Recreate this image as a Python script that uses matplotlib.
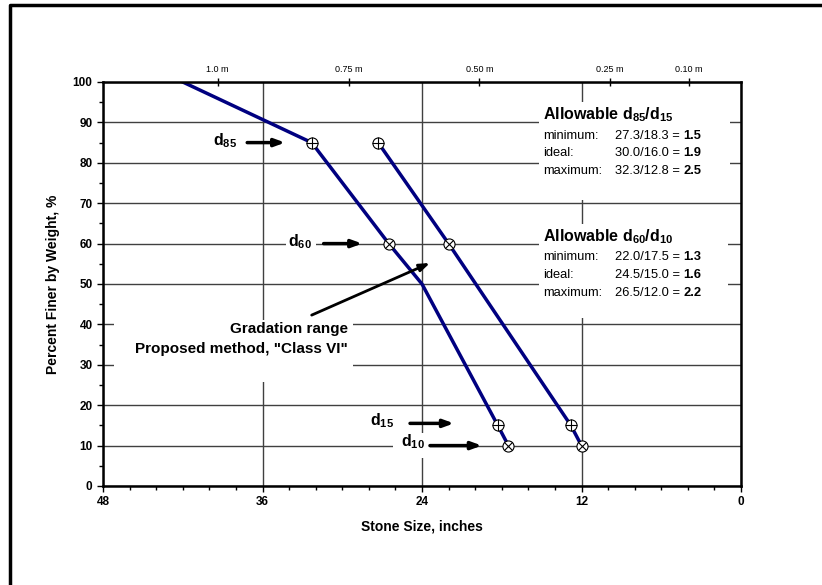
import numpy as np
import matplotlib.pyplot as plt
from matplotlib.lines import Line2D
from matplotlib.patches import Rectangle
from matplotlib.ticker import MultipleLocator, FixedLocator

plt.rcParams['font.family'] = ['Liberation Sans', 'DejaVu Sans']
plt.rcParams['mathtext.fontset'] = 'custom'
plt.rcParams['mathtext.rm'] = 'Liberation Sans'
plt.rcParams['mathtext.bf'] = 'Liberation Sans:bold'

# gradation band, stone size (inches) vs percent finer
coarse_size = [42.0, 32.3, 26.5, 24.0, 18.3, 17.5]
coarse_pct = [100, 85, 60, 50, 15, 10]
fine_size = [27.3, 22.0, 12.8, 12.0]
fine_pct = [85, 60, 15, 10]

plus_pcts = [85, 15]    # d85, d15 -> circled plus
cross_pcts = [60, 10]   # d60, d10 -> circled x

metre_ticks = [1.0, 0.75, 0.50, 0.25, 0.10]
metre_labels = ['1.0 m', '0.75 m', '0.50 m', '0.25 m', '0.10 m']
IN_PER_M = 39.37

ratio85 = [('minimum:', '27.3/18.3 = ', '1.5'),
           ('ideal:', '30.0/16.0 = ', '1.9'),
           ('maximum:', '32.3/12.8 = ', '2.5')]
ratio60 = [('minimum:', '22.0/17.5 = ', '1.3'),
           ('ideal:', '24.5/15.0 = ', '1.6'),
           ('maximum:', '26.5/12.0 = ', '2.2')]

fig = plt.figure(figsize=(8.22, 5.85), dpi=100)
ax = fig.add_axes([103/822, 1-486/585, 638/822, 404/585])

ax.set_xlim(48, 0)
ax.set_ylim(0, 100)
ax.xaxis.set_major_locator(MultipleLocator(12))
ax.xaxis.set_minor_locator(MultipleLocator(2))
ax.yaxis.set_major_locator(MultipleLocator(10))
ax.yaxis.set_minor_locator(MultipleLocator(5))
ax.set_axisbelow(True)
ax.grid(True, which='major', color='0.25', lw=1)
ax.tick_params(which='both', direction='out', width=1, labelsize=8.5)
ax.tick_params(which='major', length=4)
ax.tick_params(which='minor', length=3)
for lab in ax.get_xticklabels() + ax.get_yticklabels():
    lab.set_fontweight('bold')
for s in ax.spines.values():
    s.set_linewidth(1.8)

ax.set_xlabel('Stone Size, inches', fontsize=10, fontweight='bold', labelpad=8)
ax.set_ylabel('Percent Finer by Weight, %', fontsize=10, fontweight='bold', labelpad=9.5)

top = ax.secondary_xaxis('top', functions=(lambda x: x / IN_PER_M, lambda m: m * IN_PER_M))
top.xaxis.set_major_locator(FixedLocator(metre_ticks))
top.set_xticklabels(metre_labels)
top.tick_params(direction='inout', length=6, width=1, labelsize=6.5, pad=2.5)
top.spines['top'].set_visible(False)


def blank(x0, x1, y0, y1):
    ax.add_patch(Rectangle((x1, y0), x0 - x1, y1 - y0, fc='white', ec='none', zorder=1))


blank(15.2, 0.85, 70.8, 95.0)
blank(15.2, 1.0, 41.6, 64.8)
blank(47.2, 29.2, 25.7, 41.1)
blank(34.2, 32.0, 57.9, 62.6)
blank(26.2, 23.4, 6.9, 13.0)

ax.plot(coarse_size, coarse_pct, color='#000080', lw=2.5, zorder=2)
ax.plot(fine_size, fine_pct, color='#000080', lw=2.5, zorder=2)

for sz, pc in [(coarse_size, coarse_pct), (fine_size, fine_pct)]:
    for x, y in zip(sz, pc):
        if y in plus_pcts:
            ax.plot(x, y, 'o', ms=8, mfc='white', mec='black', mew=0.8, zorder=3)
            ax.plot(x, y, '+', ms=8, color='black', mew=0.8, zorder=4)
        elif y in cross_pcts:
            ax.plot(x, y, 'o', ms=8, mfc='white', mec='black', mew=0.8, zorder=3)
            ax.plot(x, y, 'x', ms=5.6, color='black', mew=0.8, zorder=4)

arrow = dict(arrowstyle='-|>,head_length=0.6,head_width=0.22', lw=2.5, color='black',
             shrinkA=0, shrinkB=0)
dlabels = [(r'd$_{\mathbf{85}}$', 38.8, 85.6, 37.15, 34.3, 85.0),
           (r'd$_{\mathbf{60}}$', 33.2, 60.6, 31.4, 28.5, 60.0),
           (r'd$_{\mathbf{15}}$', 27.0, 16.2, 24.9, 21.6, 15.5),
           (r'd$_{\mathbf{10}}$', 24.7, 11.0, 23.4, 19.5, 10.0)]
for txt, tx, ty, a0, a1, ay in dlabels:
    ax.text(tx, ty, txt, ha='center', va='center', fontsize=11.5, fontweight='bold', zorder=5)
    ax.annotate('', xy=(a1, ay), xytext=(a0, ay), arrowprops=arrow, zorder=5)

ax.text(29.6, 38.9, 'Gradation range', ha='right', va='center', fontsize=11,
        fontweight='bold', zorder=5)
ax.text(29.6, 33.9, 'Proposed method, "Class VI"', ha='right', va='center', fontsize=11,
        fontweight='bold', zorder=5)
ax.annotate('', xy=(23.4, 55.2), xytext=(32.3, 42.3),
            arrowprops=dict(arrowstyle='-|>,head_length=0.6,head_width=0.22', lw=2,
                            color='black', shrinkA=0, shrinkB=0), zorder=5)


def ratio_block(title, rows, ytitle, ys):
    ax.text(14.9, ytitle, title, ha='left', va='center', fontsize=11.5,
            fontweight='bold', zorder=5)
    for (name, expr, val), y in zip(rows, ys):
        ax.text(14.9, y, name, ha='left', va='center', fontsize=9.3, zorder=5)
        t = ax.text(9.48, y, expr, ha='left', va='center', fontsize=9.3, zorder=5)
        ax.annotate(val, xy=(1, 0.5), xycoords=t, ha='left', va='center',
                    fontsize=9.3, fontweight='bold', zorder=5)


ratio_block(r'Allowable d$_{\mathbf{85}}$/d$_{\mathbf{15}}$', ratio85, 91.8, [86.6, 82.4, 78.0])
ratio_block(r'Allowable d$_{\mathbf{60}}$/d$_{\mathbf{10}}$', ratio60, 61.7, [56.8, 52.2, 47.8])

fx = 10 / 822
fy = 1 - 5 / 585
fig.add_artist(Line2D([fx, fx, 1], [0, fy, fy], transform=fig.transFigure,
                      color='black', lw=2.5))

fig.savefig('out.png', dpi=100)
